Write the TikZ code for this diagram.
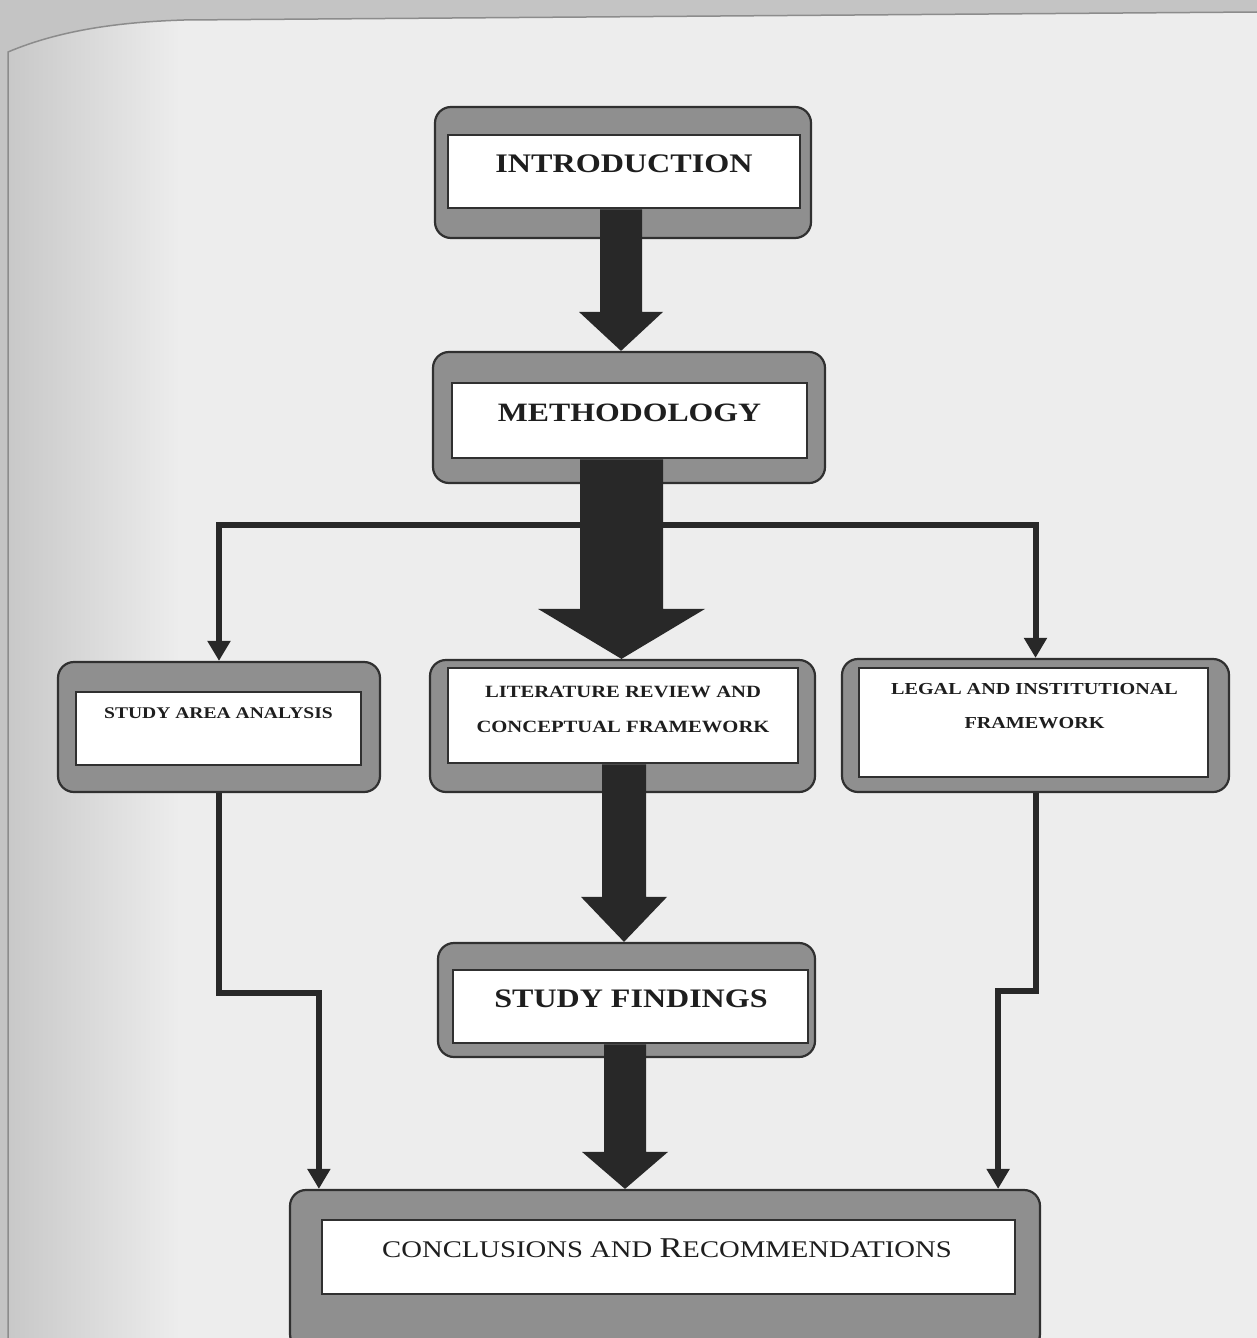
\documentclass[tikz,border=0pt]{standalone}
\usepackage{fontspec}
\setmainfont{Liberation Serif}[FakeStretch=1.2]
\usetikzlibrary{arrows.meta,calc}

\definecolor{edgebg}{RGB}{196,196,196}
\definecolor{pagebg}{RGB}{237,237,237}
\definecolor{shadowbg}{RGB}{200,200,200}
\definecolor{framegray}{RGB}{143,143,143}
\definecolor{inkdark}{RGB}{48,48,48}
\definecolor{arrowdark}{RGB}{40,40,40}
\definecolor{textdark}{RGB}{30,30,30}

\tikzset{
  frame/.style={draw=inkdark, line width=2.2pt, fill=framegray,
    rounded corners=16pt, inner sep=0pt},
  panel/.style={draw=inkdark, line width=2.5pt, fill=white, inner sep=0pt},
  boxtext/.style={inner sep=0pt, text=textdark, align=center},
  conn/.style={draw=arrowdark, line width=6pt, line join=miter,
    -{Triangle[width=22pt,length=20pt]}},
}

% solid block arrow: #1 centre x, #2 source node, #3 target node,
% #4 half shaft width, #5 half head width, #6 head length
\newcommand\blockarrow[6]{%
  \fill[arrowdark] let \p1=(#2.south), \p2=(#3.north) in
    (#1pt-#4pt,\y1) -- (#1pt-#4pt,\y2+#6pt) -- (#1pt-#5pt,\y2+#6pt) --
    (#1pt,\y2) -- (#1pt+#5pt,\y2+#6pt) -- (#1pt+#4pt,\y2+#6pt) --
    (#1pt+#4pt,\y1) -- cycle;}

\begin{document}
\begin{tikzpicture}[x=1pt, y=-1pt]
\useasboundingbox (0,0) rectangle (1257,1338);
\clip (0,0) rectangle (1257,1338);

% sheet of paper
\fill[edgebg] (0,0) rectangle (1257,1338);
\begin{scope}
  \clip (8,1338) -- (8,52) .. controls (60,30) and (120,22) .. (184,20)
        -- (1257,12) -- (1257,1338) -- cycle;
  \fill[pagebg] (0,0) rectangle (1257,1338);
  \shade[left color=shadowbg, right color=pagebg] (8,0) rectangle (180,1338);
\end{scope}
\draw[black!45, line width=1.5pt] (8,1338) -- (8,52)
  .. controls (60,30) and (120,22) .. (184,20) -- (1257,12);

% outer frames
\node[frame, minimum width=376pt, minimum height=131pt] (intro) at (623,172.5) {};
\node[frame, minimum width=392pt, minimum height=131pt] (meth)  at (629,417.5) {};
\node[frame, minimum width=322pt, minimum height=130pt] (area)  at (219,727) {};
\node[frame, minimum width=385pt, minimum height=132pt] (lit)   at (622.5,726) {};
\node[frame, minimum width=387pt, minimum height=133pt] (legal) at (1035.5,725.5) {};
\node[frame, minimum width=377pt, minimum height=114pt] (find)  at (626.5,1000) {};
\node[frame, minimum width=750pt, minimum height=160pt] (conc)  at (665,1270) {};

% inner white panels
\node[panel, minimum width=352pt, minimum height=73pt]  (intro-in) at (624,171.5) {};
\node[panel, minimum width=355pt, minimum height=75pt]  (meth-in)  at (629.5,420.5) {};
\node[panel, minimum width=285pt, minimum height=73pt]  (area-in)  at (218.5,728.5) {};
\node[panel, minimum width=350pt, minimum height=95pt]  (lit-in)   at (623,715.5) {};
\node[panel, minimum width=349pt, minimum height=109pt] (legal-in) at (1033.5,722.5) {};
\node[panel, minimum width=355pt, minimum height=73pt]  (find-in)  at (630.5,1006.5) {};
\node[panel, minimum width=693pt, minimum height=74pt]  (conc-in)  at (668.5,1257) {};

% titles
\node[boxtext, font=\bfseries\fontsize{26.8}{30}\selectfont] (intro-t) at (624,164)
  {INTRODUCTION};
\node[boxtext, font=\bfseries\fontsize{26.5}{30}\selectfont] (meth-t) at (629.5,413)
  {METHODOLOGY};
\node[boxtext, font=\bfseries\fontsize{16.3}{22}\selectfont] (area-t) at (218.5,713)
  {STUDY AREA ANALYSIS};
\node[boxtext, font=\bfseries\fontsize{17.2}{35}\selectfont] (lit-t) at (623,709.5)
  {LITERATURE REVIEW AND\\CONCEPTUAL FRAMEWORK};
\node[boxtext, font=\bfseries\fontsize{16.8}{34}\selectfont] (legal-t) at (1034.5,706.5)
  {LEGAL AND INSTITUTIONAL\\FRAMEWORK};
\node[boxtext, font=\bfseries\fontsize{26.7}{30}\selectfont] (find-t) at (631,999)
  {STUDY FINDINGS};
\node[boxtext, font=\fontsize{23.9}{28}\selectfont] (conc-t) at (667,1248)
  {CONCLUSIONS AND {\fontsize{28.7}{30}\selectfont R}ECOMMENDATIONS};

% branch lines from the methodology stage
\coordinate (split) at (621,525);
\draw[conn] (split) -| (area.north);
\draw[conn] (split) -| (legal.north);

% side paths into the conclusions
\draw[conn] (area.south) -- ++(0,200) -| ($(conc.north west)+(30,0)$);
\draw[conn] (legal.south) -- ++(0,198) -| ($(conc.north east)+(-43,0)$);

% main block arrows
\blockarrow{621}{intro-in}{meth}{21}{42}{39}
\blockarrow{621.5}{meth-in}{lit}{41.5}{83.5}{50}
\blockarrow{624}{lit-in}{find}{22}{43}{45}
\blockarrow{625}{find-in}{conc}{21}{43}{37}
\end{tikzpicture}
\end{document}
